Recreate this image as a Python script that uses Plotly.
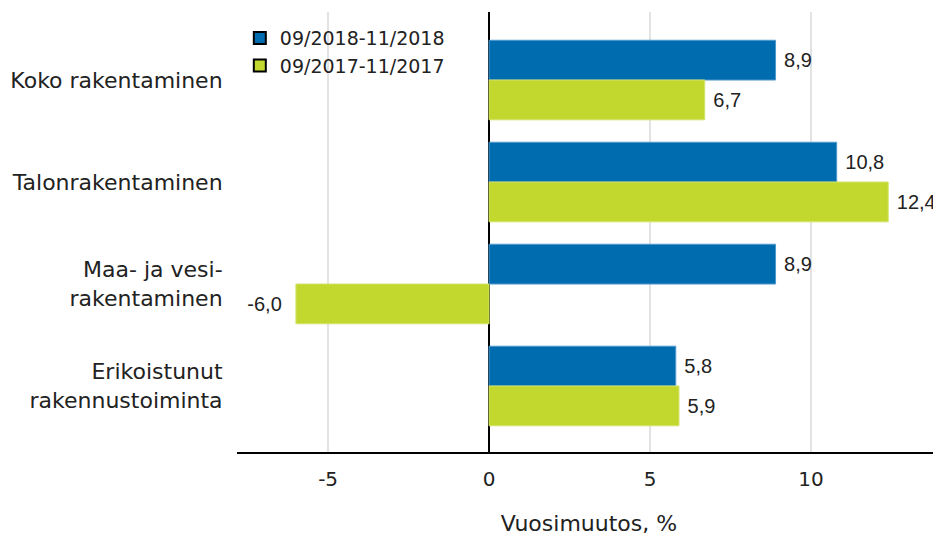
import plotly.graph_objects as go

categories = ["Koko rakentaminen", "Talonrakentaminen", "Maa- ja vesi-<br>rakentaminen", "Erikoistunut<br>rakennustoiminta"]
series_names = ["09/2018-11/2018", "09/2017-11/2017"]
values_2018 = [8.9, 10.8, 8.9, 5.8]
values_2017 = [6.7, 12.4, -6.0, 5.9]
tick_vals = [-5, 0, 5, 10]
tick_text = ["-5", "0", "5", "10"]
colors = ["#006cb0", "#c2d82e"]
line_colors = ["#4f98cc", "#d3e36a"]

FONT = "DejaVu Sans, Liberation Sans, Arial, sans-serif"
LABEL_FONT = "Liberation Sans, Arial, sans-serif"
NB = "\u00a0"

fig = go.Figure()
for name, vals, c, lc in zip(series_names, [values_2018, values_2017], colors, line_colors):
    templates = [(NB + "%{x:.1f}") if v >= 0 else ("%{x:.1f}" + NB + NB) for v in vals]
    fig.add_trace(go.Bar(
        y=categories, x=vals, orientation="h", name=name, showlegend=False,
        marker=dict(color=c, line=dict(color=lc, width=1)),
        texttemplate=templates, textposition="outside",
        textfont=dict(size=20, color="#222222", family=LABEL_FONT), cliponaxis=False,
    ))
for name, c in zip(series_names, colors):
    fig.add_trace(go.Scatter(
        x=[None], y=[None], mode="markers", name=name,
        marker=dict(symbol="square", size=13, color=c, line=dict(color="#000000", width=1.5)),
    ))

fig.update_layout(
    width=933, height=528,
    margin=dict(l=229, r=0, t=4, b=84),
    paper_bgcolor="white", plot_bgcolor="white",
    barmode="group", bargap=0.22, bargroupgap=0,
    separators=", ",
    font=dict(family=FONT, color="#222222"),
    legend=dict(x=0.004, y=0.984, xanchor="left", yanchor="top",
                font=dict(size=19, color="#222222", family=FONT), bgcolor="rgba(0,0,0,0)",
                itemsizing="constant", tracegroupgap=0),
    xaxis=dict(
        range=[-7.83, 14.04], tickvals=tick_vals, ticktext=tick_text,
        showgrid=True, gridcolor="#e3e3e3", gridwidth=1.5,
        zeroline=True, zerolinecolor="#000000", zerolinewidth=1.5,
        showline=True, linecolor="#000000", linewidth=2,
        ticks="outside", ticklen=8, tickcolor="rgba(0,0,0,0)",
        tickfont=dict(size=20, color="#222222", family=FONT),
        title=dict(text="Vuosimuutos, %", font=dict(size=22, color="#222222", family=FONT), standoff=26),
    ),
    yaxis=dict(
        categoryorder="array", categoryarray=categories,
        range=[3.647, -0.667], showgrid=False, zeroline=False,
        ticks="outside", ticklen=9, tickcolor="rgba(0,0,0,0)",
        tickfont=dict(size=22, color="#222222", family=FONT),
    ),
)

fig.write_html("out.html")
